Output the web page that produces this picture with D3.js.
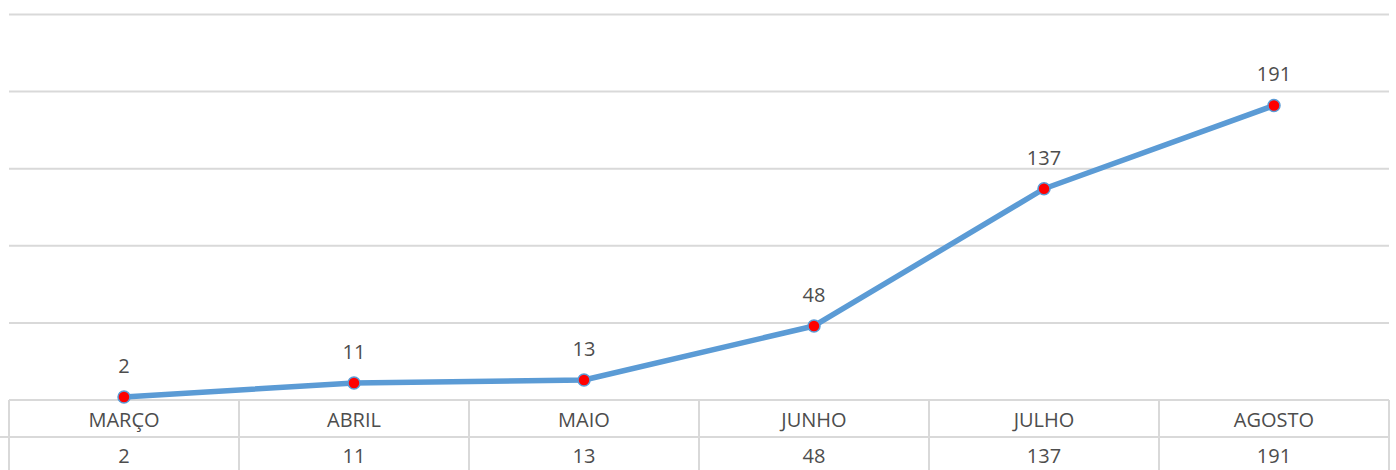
<!DOCTYPE html>
<html>
<head>
<meta charset="utf-8">
<script src="https://cdn.jsdelivr.net/npm/d3@7"></script>
<style>
  body { margin: 0; background: #fff; }
  text { font-family: "Open Sans", sans-serif; fill: #4d4d4d; font-size: 20px; }
</style>
</head>
<body>
<div id="chart"></div>
<script>
const months = ["MARÇO", "ABRIL", "MAIO", "JUNHO", "JULHO", "AGOSTO"];
const values = [2, 11, 13, 48, 137, 191];
const yTicks = [0, 50, 100, 150, 200, 250];

const width = 1396, height = 470;
const plotLeft = 9, plotRight = 1389, plotTop = 14.5, plotBottom = 400;
const rowH = 37;

const svg = d3.select("#chart").append("svg")
  .attr("width", width)
  .attr("height", height);

const x = d3.scaleBand().domain(months).range([plotLeft, plotRight]);
const y = d3.scaleLinear().domain([0, 250]).range([plotBottom, plotTop]);
const cx = (i) => x(months[i]) + x.bandwidth() / 2;

// gridlines
svg.append("g")
  .selectAll("line")
  .data(yTicks)
  .join("line")
  .attr("x1", plotLeft)
  .attr("x2", plotRight)
  .attr("y1", (d) => y(d))
  .attr("y2", (d) => y(d))
  .attr("stroke", "#d9d9d9")
  .attr("stroke-width", 2);

// data table under the plot
const table = svg.append("g");
table.append("line")
  .attr("x1", 0).attr("x2", plotRight)
  .attr("y1", plotBottom + rowH).attr("y2", plotBottom + rowH)
  .attr("stroke", "#d9d9d9").attr("stroke-width", 2);
table.selectAll(".sep")
  .data(months.concat(["end"]))
  .join("line")
  .attr("class", "sep")
  .attr("x1", (d, i) => (i < months.length ? x(d) : plotRight))
  .attr("x2", (d, i) => (i < months.length ? x(d) : plotRight))
  .attr("y1", plotBottom)
  .attr("y2", height)
  .attr("stroke", "#d9d9d9")
  .attr("stroke-width", 2);

table.selectAll(".month")
  .data(months)
  .join("text")
  .attr("class", "month")
  .attr("x", (d, i) => cx(i))
  .attr("y", plotBottom + 27)
  .attr("text-anchor", "middle")
  .text((d) => d);

table.selectAll(".val")
  .data(values)
  .join("text")
  .attr("class", "val")
  .attr("x", (d, i) => cx(i))
  .attr("y", plotBottom + rowH + 26)
  .attr("text-anchor", "middle")
  .text((d) => d);

// line
const line = d3.line()
  .x((d, i) => cx(i))
  .y((d) => y(d));

svg.append("path")
  .datum(values)
  .attr("d", line)
  .attr("fill", "none")
  .attr("stroke", "#5b9bd5")
  .attr("stroke-width", 5.5)
  .attr("stroke-linejoin", "round");

svg.selectAll(".dot")
  .data(values)
  .join("circle")
  .attr("class", "dot")
  .attr("cx", (d, i) => cx(i))
  .attr("cy", (d) => y(d))
  .attr("r", 6)
  .attr("fill", "#ff0000")
  .attr("stroke", "#5b9bd5")
  .attr("stroke-width", 1.5);

svg.selectAll(".lbl")
  .data(values)
  .join("text")
  .attr("class", "lbl")
  .attr("x", (d, i) => cx(i))
  .attr("y", (d) => y(d) - 24)
  .attr("text-anchor", "middle")
  .text((d) => d);
</script>
</body>
</html>
